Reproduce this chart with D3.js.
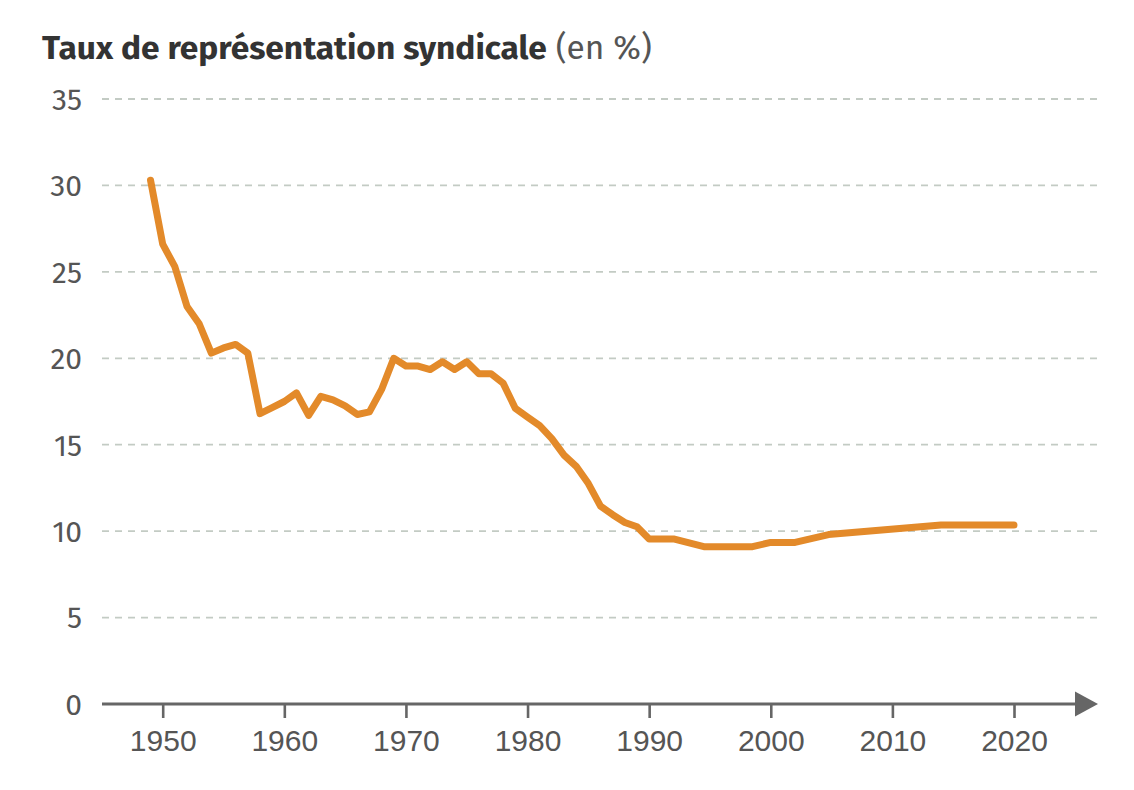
<!DOCTYPE html>
<html>
<head>
<meta charset="utf-8">
<script src="https://cdn.jsdelivr.net/npm/d3@7"></script>
<style>
  html, body { margin: 0; padding: 0; background: #fff; }
  svg { display: block; font-family: "Fira Sans", Roboto, "Noto Sans", sans-serif; }
</style>
</head>
<body>
<svg id="chart" width="1134" height="790"></svg>
<script>
// ---- data ----
const titleBold = "Taux de représentation syndicale";
const titleUnit = "(en %)";
const years = [1949,1950,1951,1952,1953,1954,1955,1956,1957,1958,1959,
  1960,1961,1962,1963,1964,1965,1966,1967,1968,1969,
  1970,1971,1972,1973,1974,1975,1976,1977,1978,1979,
  1980,1981,1982,1983,1984,1985,1986,1987,1988,1989,
  1990,1991,1992,1994.5,1998.5,2000,2002,2004.75,2014,2020];
const rates = [30.3,26.6,25.3,23.0,22.0,20.3,20.6,20.8,20.3,16.8,17.15,
  17.5,18.0,16.7,17.8,17.6,17.25,16.75,16.9,18.2,20.0,
  19.55,19.55,19.35,19.8,19.35,19.8,19.1,19.1,18.55,17.1,
  16.6,16.1,15.35,14.4,13.75,12.75,11.45,10.95,10.5,10.25,
  9.55,9.55,9.55,9.1,9.1,9.35,9.35,9.8,10.35,10.35];
const xTicks = [1950,1960,1970,1980,1990,2000,2010,2020];
const yTicks = [0,5,10,15,20,25,30,35];

// ---- layout ----
const svg = d3.select("#chart");
const x = d3.scaleLinear().domain([1950, 2020]).range([162.7, 1014]);
const y = d3.scaleLinear().domain([0, 35]).range([704, 99]);
const axisLeftX = 102, axisEndX = 1097;

// gridlines
svg.append("g").selectAll("line")
  .data(yTicks.filter(d => d > 0))
  .join("line")
  .attr("x1", axisLeftX).attr("x2", axisEndX)
  .attr("y1", d => y(d)).attr("y2", d => y(d))
  .attr("stroke", "#c3cbc4").attr("stroke-width", 1.8)
  .attr("stroke-dasharray", "7,6");

// y labels
svg.append("g").selectAll("text")
  .data(yTicks)
  .join("text")
  .attr("x", 82).attr("y", d => y(d))
  .attr("dy", "0.36em")
  .attr("text-anchor", "end")
  .attr("font-size", 30)
  .attr("fill", "#555")
  .text(d => d);

// x axis
const xAxis = d3.axisBottom(x).tickValues(xTicks).tickFormat(d3.format("d"))
  .tickSize(14).tickPadding(12);
const gx = svg.append("g").attr("transform", `translate(0,${y(0)})`).call(xAxis);
gx.select(".domain").remove();
gx.selectAll(".tick line").attr("stroke", "#666").attr("stroke-width", 2.6);
gx.selectAll(".tick text").attr("font-size", 30).attr("fill", "#555")
  .attr("font-family", null);

// axis baseline + arrow
svg.append("line")
  .attr("x1", axisLeftX).attr("x2", 1080)
  .attr("y1", y(0)).attr("y2", y(0))
  .attr("stroke", "#666").attr("stroke-width", 2.8);
svg.append("path")
  .attr("d", `M1075,${y(0)-12.5} L1098,${y(0)} L1075,${y(0)+12.5} Z`)
  .attr("fill", "#666");

// line
const data = years.map((yr, i) => ({ yr, v: rates[i] }));
svg.append("path")
  .datum(data)
  .attr("fill", "none")
  .attr("stroke", "#e38a2a")
  .attr("stroke-width", 7)
  .attr("stroke-linecap", "round")
  .attr("stroke-linejoin", "round")
  .attr("d", d3.line().x(d => x(d.yr)).y(d => y(d.v)));

// title
const title = svg.append("text").attr("x", 42).attr("y", 59)
  .attr("font-size", 30);
title.append("tspan").attr("font-weight", 700).attr("fill", "#333").text(titleBold);
title.append("tspan").attr("font-weight", 400).attr("fill", "#555").text(" " + titleUnit);
// fit title width to reference
const w = title.node().getComputedTextLength();
const target = 610;
title.attr("font-size", 30 * target / w);
</script>
</body>
</html>
